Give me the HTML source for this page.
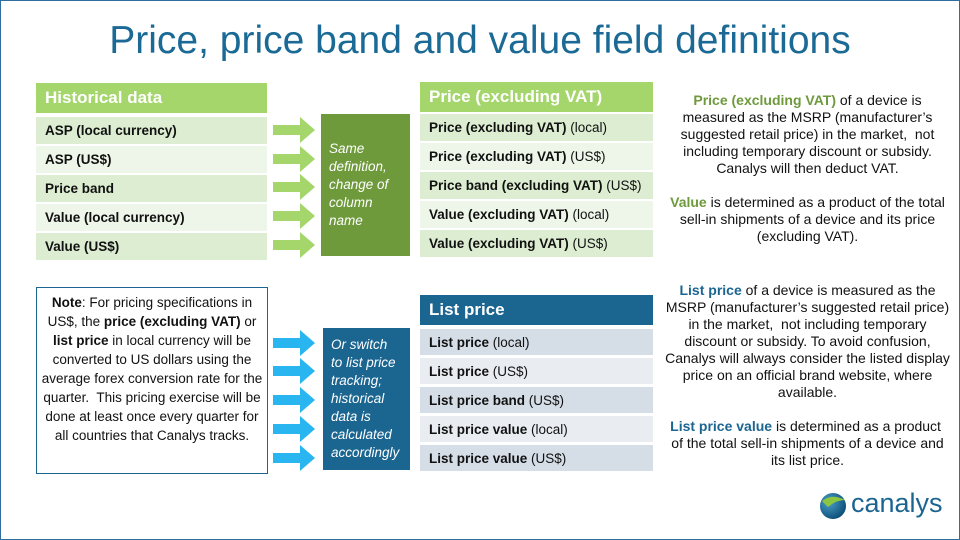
<!DOCTYPE html>
<html><head><meta charset="utf-8"><style>
*{margin:0;padding:0;box-sizing:border-box}
body{width:960px;height:540px;background:#fff;font-family:"Liberation Sans",sans-serif;position:relative;overflow:hidden}
#frame{position:absolute;left:0;top:0;width:960px;height:540px;border:1px solid #2e6f9e}
.a{position:absolute}
h1{position:absolute;left:0;width:960px;top:19px;text-align:center;font-weight:normal;font-size:39px;color:#1b6a96}
.hdr{position:absolute;color:#fff;font-weight:bold;font-size:17px;padding-left:9px;display:flex;align-items:center}
.row{position:absolute;font-size:13.5px;color:#111;padding-left:9px;display:flex;align-items:center;white-space:nowrap}
.box{position:absolute;color:#fff;font-style:italic;font-size:13.5px;line-height:18px;padding:0 8px;display:flex;align-items:center}
.txt{position:absolute;text-align:center;font-size:14px;line-height:17px;color:#111}
.g{color:#6e9a3c;font-weight:bold}.b{color:#1b6591;font-weight:bold}
</style></head><body>
<div id="frame"></div>
<h1>Price, price band and value field definitions</h1>

<div class="hdr" style="left:36px;top:83px;width:231px;height:30px;background:#a5d66b">Historical data</div>
<div class="row" style="left:36px;top:117px;width:231px;height:27px;background:#dcedd1;font-weight:bold">ASP (local currency)</div>
<div class="row" style="left:36px;top:146px;width:231px;height:27px;background:#eef6e9;font-weight:bold">ASP (US$)</div>
<div class="row" style="left:36px;top:175px;width:231px;height:27px;background:#dcedd1;font-weight:bold">Price band</div>
<div class="row" style="left:36px;top:204px;width:231px;height:27px;background:#eef6e9;font-weight:bold">Value (local currency)</div>
<div class="row" style="left:36px;top:233px;width:231px;height:27px;background:#dcedd1;font-weight:bold">Value (US$)</div>

<svg class="a" style="left:272px;top:112px" width="46" height="150">
<g fill="#a5d66b">
<polygon points="1,13 28,13 28,5 43,18 28,31 28,23 1,23"/>
<polygon points="1,42 28,42 28,34 43,47 28,60 28,52 1,52"/>
<polygon points="1,70 28,70 28,62 43,75 28,88 28,80 1,80"/>
<polygon points="1,99 28,99 28,91 43,104 28,117 28,109 1,109"/>
<polygon points="1,128 28,128 28,120 43,133 28,146 28,138 1,138"/>
</g></svg>
<div class="box" style="left:321px;top:114px;width:89px;height:142px;background:#6e9a3c">Same definition, change of column name</div>

<div class="hdr" style="left:420px;top:82px;width:233px;height:30px;background:#a5d66b">Price (excluding VAT)</div>
<div class="row" style="left:420px;top:114px;width:233px;height:27px;background:#dcedd1"><b>Price (excluding VAT)</b>&nbsp;(local)</div>
<div class="row" style="left:420px;top:143px;width:233px;height:27px;background:#eef6e9"><b>Price (excluding VAT)</b>&nbsp;(US$)</div>
<div class="row" style="left:420px;top:172px;width:233px;height:27px;background:#dcedd1"><b>Price band (excluding VAT)</b>&nbsp;(US$)</div>
<div class="row" style="left:420px;top:201px;width:233px;height:27px;background:#eef6e9"><b>Value (excluding VAT)</b>&nbsp;(local)</div>
<div class="row" style="left:420px;top:230px;width:233px;height:27px;background:#dcedd1"><b>Value (excluding VAT)</b>&nbsp;(US$)</div>

<div class="txt" style="left:665px;top:92px;width:285px"><span class="g">Price (excluding VAT)</span> of a device is measured as the MSRP (manufacturer’s suggested retail price) in the market,&nbsp; not including temporary discount or subsidy. Canalys will then deduct VAT.<br><br><span class="g">Value</span> is determined as a product of the total sell-in shipments of a device and its price (excluding VAT).</div>

<div class="a" style="left:36px;top:287px;width:232px;height:187px;border:1px solid #1b6591;padding:5px 3px;text-align:center;font-size:13.5px;line-height:19px;color:#111"><b>Note</b>: For pricing specifications in US$, the <b>price (excluding VAT)</b> or <b>list price</b> in local currency will be converted to US dollars using the average forex conversion rate for the quarter.&nbsp; This pricing exercise will be done at least once every quarter for all countries that Canalys tracks.</div>

<svg class="a" style="left:272px;top:326px" width="46" height="150">
<g fill="#29b6f0">
<polygon points="1,12 28,12 28,4 43,17 28,30 28,22 1,22"/>
<polygon points="1,40 28,40 28,32 43,45 28,58 28,50 1,50"/>
<polygon points="1,69 28,69 28,61 43,74 28,87 28,79 1,79"/>
<polygon points="1,98 28,98 28,90 43,103 28,116 28,108 1,108"/>
<polygon points="1,127 28,127 28,119 43,132 28,145 28,137 1,137"/>
</g></svg>
<div class="box" style="left:323px;top:328px;width:87px;height:142px;background:#1b6591">Or switch to list price tracking; historical data is calculated accordingly</div>

<div class="hdr" style="left:420px;top:295px;width:233px;height:30px;background:#1b6591">List price</div>
<div class="row" style="left:420px;top:329px;width:233px;height:26px;background:#d5dde6"><b>List price</b>&nbsp;(local)</div>
<div class="row" style="left:420px;top:358px;width:233px;height:26px;background:#e9edf2"><b>List price</b>&nbsp;(US$)</div>
<div class="row" style="left:420px;top:387px;width:233px;height:26px;background:#d5dde6"><b>List price band</b>&nbsp;(US$)</div>
<div class="row" style="left:420px;top:416px;width:233px;height:26px;background:#e9edf2"><b>List price value</b>&nbsp;(local)</div>
<div class="row" style="left:420px;top:445px;width:233px;height:26px;background:#d5dde6"><b>List price value</b>&nbsp;(US$)</div>

<div class="txt" style="left:665px;top:282px;width:285px"><span class="b">List price</span> of a device is measured as the MSRP (manufacturer’s suggested retail price) in the market,&nbsp; not including temporary discount or subsidy. To avoid confusion, Canalys will always consider the listed display price on an official brand website, where available.<br><br><span class="b">List price value</span> is determined as a product&nbsp; of the total sell-in shipments of a device and its list price.</div>

<svg class="a" style="left:818px;top:491px" width="30" height="30">
<defs><radialGradient id="gl" cx="35%" cy="35%" r="70%"><stop offset="0" stop-color="#4aa0c8"/><stop offset="1" stop-color="#0d4d78"/></radialGradient></defs>
<circle cx="15" cy="15" r="13" fill="url(#gl)"/>
<path d="M4,10 Q14,2 27,9 Q18,9 10,16 Z" fill="#8cc63f"/>
</svg>
<div class="a" style="left:851px;top:488px;font-size:27px;color:#1b6591">canalys</div>
</body></html>
